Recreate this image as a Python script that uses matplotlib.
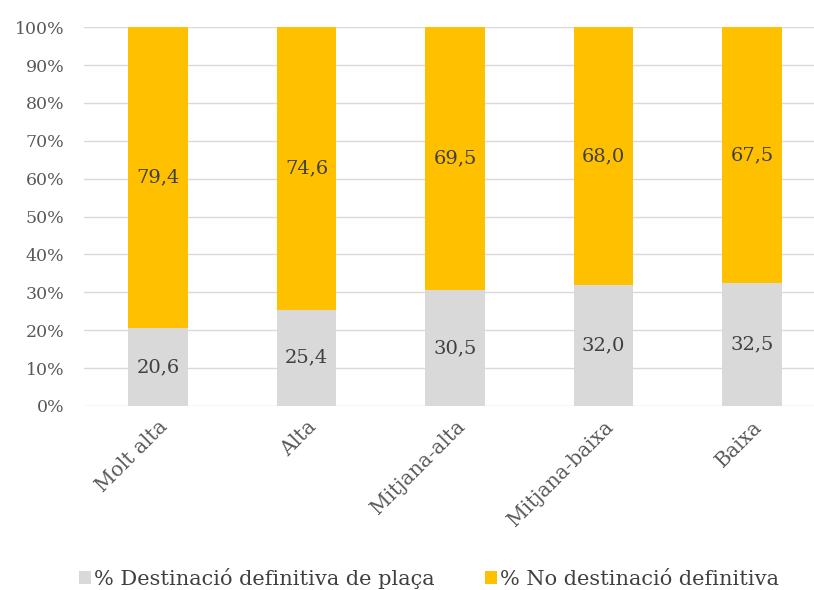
import numpy as np
import matplotlib.pyplot as plt
from matplotlib.ticker import PercentFormatter

categories = ["Molt alta", "Alta", "Mitjana-alta", "Mitjana-baixa", "Baixa"]
definitiva = [20.6, 25.4, 30.5, 32.0, 32.5]
no_definitiva = [79.4, 74.6, 69.5, 68.0, 67.5]
series_labels = ["% Destinació definitiva de plaça", "% No destinació definitiva"]

GRAY = "#D9D9D9"
GOLD = "#FFC000"
TEXT = "#404040"

plt.rcParams['font.family'] = ['DejaVu Serif']

fig = plt.figure(figsize=(8.14, 5.9), dpi=100)
ax = fig.add_axes([0.103, 0.312, 0.912, 0.642])

x = np.arange(len(categories))
b1 = ax.bar(x, definitiva, width=0.4, color=GRAY, label=series_labels[0], zorder=2)
b2 = ax.bar(x, no_definitiva, width=0.4, bottom=definitiva, color=GOLD,
            label=series_labels[1], zorder=2)

for bars in (b1, b2):
    ax.bar_label(bars, labels=[f"{v:.1f}".replace(".", ",") for v in bars.datavalues],
                 label_type='center', fontsize=14, color=TEXT)

ax.set_xlim(-0.5, len(categories) - 0.5)
ax.set_ylim(0, 100)
ax.set_yticks(np.arange(0, 101, 10))
ax.yaxis.set_major_formatter(PercentFormatter(decimals=0))
ax.grid(axis='y', color=GRAY, linewidth=1, zorder=0)
ax.set_axisbelow(True)
for s in ax.spines.values():
    s.set_visible(False)
ax.tick_params(length=0, labelsize=12.5, labelcolor="#595959")
ax.tick_params(axis='y', pad=14)
ax.set_xticks(x)
ax.set_xticklabels(categories, rotation=45, ha='right', rotation_mode='anchor')
ax.tick_params(axis='x', pad=8, labelsize=14.5)

fig.legend(handles=[b1, b2], labels=series_labels, loc='lower center',
           bbox_to_anchor=(0.527, -0.03), ncol=2, frameon=False, fontsize=15,
           handlelength=0.6, handleheight=0.6, handletextpad=0.15, columnspacing=2.4,
           labelcolor=TEXT)

fig.savefig("out.png", dpi=100)
